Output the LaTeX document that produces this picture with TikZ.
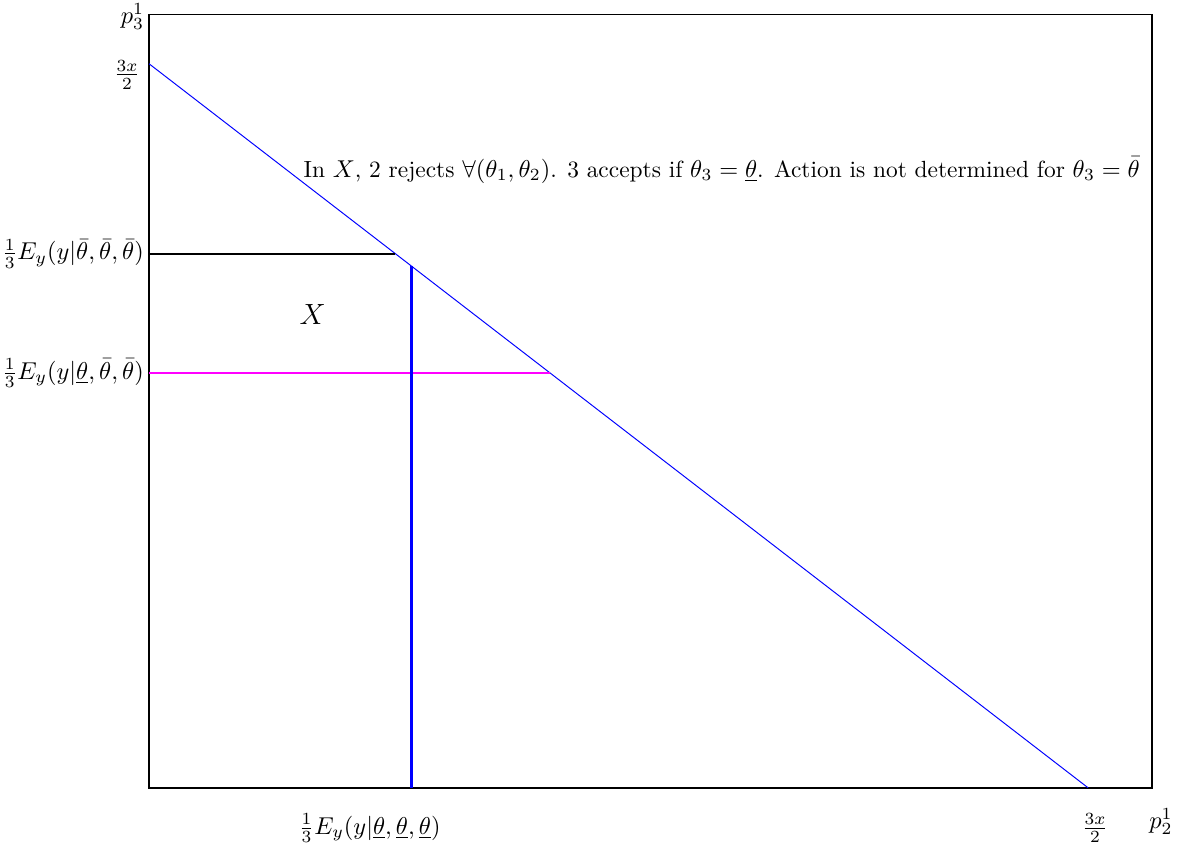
\documentclass[tikz,border=0pt]{standalone}
\usepackage{amsmath,amssymb}
\usepackage{tikz}
\usetikzlibrary{positioning, calc}
\definecolor{puremagenta}{RGB}{255,0,255}
\definecolor{pureblue}{RGB}{0,0,255}

\begin{document}
\begin{tikzpicture}[>=stealth, every node/.style={inner sep=2pt, font=\fontsize{9.6}{11.5}\selectfont}]
    \useasboundingbox (-2.15, -0.81) rectangle (14.85, 11.36);

    % Frame (x=0..14.46, y=0..11.15)
    \coordinate (O) at (0, 0);
    \coordinate (TR) at (14.46, 11.15);
    \draw[line width=0.6pt] (O) rectangle (TR);

    % Budget line
    \coordinate (top) at (0, 10.44);
    \coordinate (bot) at (13.54, 0);
    \draw[pureblue, line width=0.4pt] (top) -- (bot);

    % Thresholds
    \coordinate (hi) at (0, 7.70);
    \coordinate (hiend) at (3.55, 7.70);
    \coordinate (lo) at (0, 5.98);
    \coordinate (loend) at (5.78, 5.98);
    \coordinate (vtop) at (3.78, 7.53);
    \coordinate (vbot) at (3.78, 0);
    \draw[line width=0.8pt] (hi) -- (hiend);
    \draw[puremagenta, line width=1pt] (lo) -- (loend);
    \draw[pureblue, line width=1.2pt] (vtop) -- (vbot);

    % Axis labels
    \node (ylab) at (-0.24, 11.12) {$p_3^1$};
    \node (xlab) at (14.59, -0.49) {$p_2^1$};
    \node[anchor=east] (yint) at (-0.05, 10.28) {$\frac{3x}{2}$};
    \node (xint) at (13.64, -0.58) {$\frac{3x}{2}$};

    % Tick labels
    \node[anchor=east] (hilab) at (hi) {$\frac{1}{3}E_y(y|\bar{\theta},\bar{\theta},\bar{\theta})$};
    \node[anchor=east] (lolab) at (lo) {$\frac{1}{3}E_y(y|\underline{\theta},\bar{\theta},\bar{\theta})$};
    \node (vlab) at (3.18, -0.58) {$\frac{1}{3}E_y(y|\underline{\theta},\underline{\theta},\underline{\theta})$};

    % Region
    \node[font=\large] (X) at (2.36, 6.82) {$X$};
    \node[anchor=west, inner sep=0pt] (note) at (2.22, 8.91) {In $X$, 2 rejects $\forall(\theta_1,\theta_2)$. 3 accepts if $\theta_3=\underline{\theta}$. Action is not determined for $\theta_3=\bar{\theta}$};
\end{tikzpicture}
\end{document}
